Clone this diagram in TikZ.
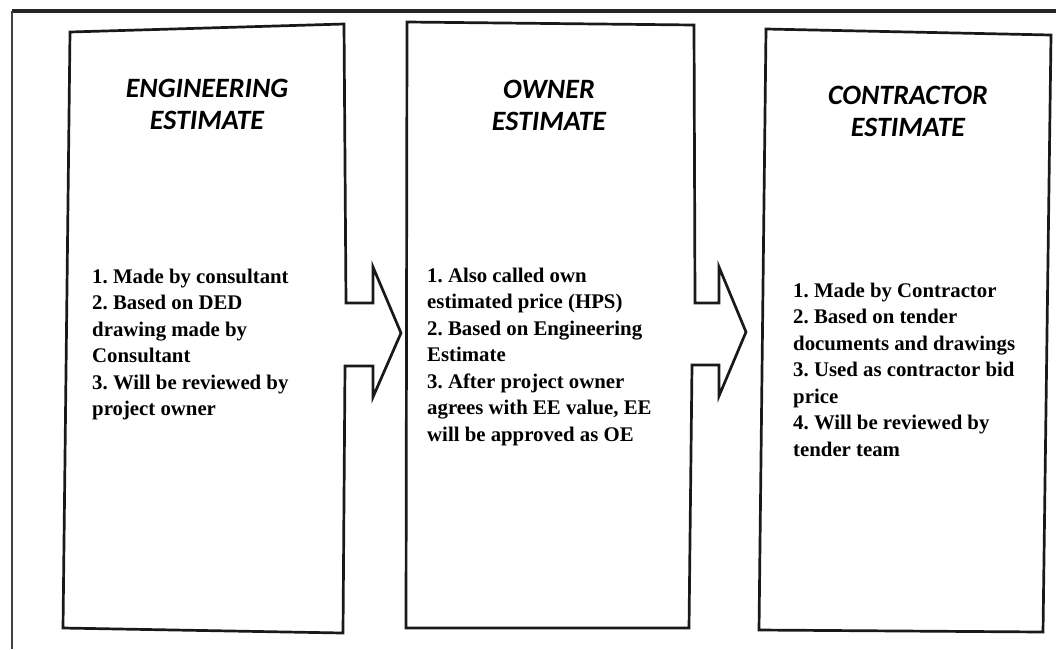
\documentclass[tikz,border=0pt]{standalone}
\usepackage{fontspec}
\setmainfont{Liberation Serif}
\newfontfamily\titlefont{Carlito}
\frenchspacing
\tikzset{
  boxline/.style={draw=black!90, line width=2.7pt, line join=miter},
  titletext/.style={inner sep=0pt, align=center, anchor=base,
    font=\titlefont\bfseries\itshape\fontsize{28}{32}\selectfont},
  bodytext/.style={inner sep=0pt, align=left, anchor=base west,
    font=\bfseries\fontsize{20.8}{26.5}\selectfont}
}
\begin{document}
\begin{tikzpicture}[x=1pt,y=-1pt]
\useasboundingbox (0,0) rectangle (1056,649);
% outer frame (top and left only)
\draw[line width=3.4pt, black!85] (12,11) -- (1056,11);
\draw[line width=1.8pt, black!75] (12,11) -- (12,649);
% box 1 with arrow
\draw[boxline] (70,32) -- (344,24) -- (346,303) -- (373,303) -- (373,267)
  -- (401,333) -- (373,397) -- (373,366) -- (345,366) -- (343,633)
  -- (63,628) -- cycle;
% box 2 with arrow
\draw[boxline] (407,22) -- (694,25) -- (695,303) -- (719,303) -- (719,267)
  -- (746,332) -- (719,396) -- (719,365) -- (692,365) -- (689,628)
  -- (406,628) -- cycle;
% box 3
\draw[boxline] (766,29) -- (1051,35) -- (1043,632) -- (759,630) -- cycle;
% titles (anchor = baseline of the last line)
\node[titletext] (t1) at (207,129) {ENGINEERING\\ESTIMATE};
\node[titletext] (t2) at (549,130) {OWNER\\ESTIMATE};
\node[titletext] (t3) at (908,136) {CONTRACTOR\\ESTIMATE};
% body texts (anchor = baseline of the last line)
\node[bodytext] (b1) at (92,415.5) {1. Made by consultant\\2. Based on DED\\drawing made by\\Consultant\\3. Will be reviewed by\\project owner};
\node[bodytext] (b2) at (427,441) {1. Also called own\\estimated price (HPS)\\2. Based on Engineering\\Estimate\\3. After project owner\\agrees with EE value, EE\\will be approved as OE};
\node[bodytext] (b3) at (793,456) {1. Made by Contractor\\2. Based on tender\\documents and drawings\\3. Used as contractor bid\\price\\4. Will be reviewed by\\tender team};
\end{tikzpicture}
\end{document}
